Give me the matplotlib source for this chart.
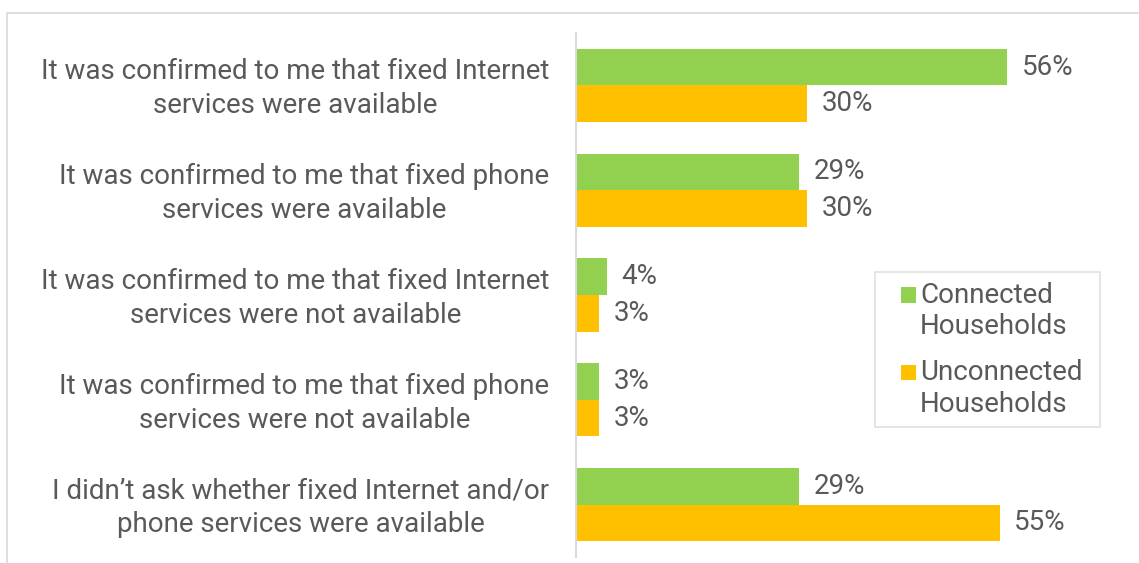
import matplotlib.pyplot as plt
import matplotlib.patches as mpatches
from matplotlib.legend_handler import HandlerPatch
import numpy as np

plt.rcParams['font.family'] = ['Roboto', 'DejaVu Sans']

categories = [
    "It was confirmed to me that fixed Internet\nservices were available",
    "It was confirmed to me that fixed phone\nservices were available",
    "It was confirmed to me that fixed Internet\nservices were not available",
    "It was confirmed to me that fixed phone\nservices were not available",
    "I didn\u2019t ask whether fixed Internet and/or\nphone services were available",
]
connected = [56, 29, 4, 3, 29]
unconnected = [30, 30, 3, 3, 55]
series_names = ["Connected\nHouseholds", "Unconnected\nHouseholds"]

GREEN = "#92D050"
GOLD = "#FFC000"
TEXT = "#595959"
FS = 20

W, H = 1139, 563
fig = plt.figure(figsize=(W / 100, H / 100), dpi=100)

# outer frame (cropped at right/bottom)
frame = mpatches.Rectangle((7 / W, -0.1), 1.2, 1 - 13 / H + 0.1,
                           transform=fig.transFigure, fill=False,
                           edgecolor="#D9D9D9", lw=1.2)
fig.patches.append(frame)

ax = fig.add_axes([576 / W, 6 / H, 539 / W, 524 / H])
y = np.arange(len(categories))
h = 0.35
b1 = ax.barh(y - h / 2, connected, height=h, color=GREEN)
b2 = ax.barh(y + h / 2, unconnected, height=h, color=GOLD)

for bars, vals in ((b1, connected), (b2, unconnected)):
    for bar, v in zip(bars, vals):
        ax.text(bar.get_width() + 1.9, bar.get_y() + bar.get_height() / 2,
                f"{v}%", va="center", ha="left", fontsize=FS, color=TEXT)

ax.set_xlim(0, 70)
ax.set_ylim(len(categories) - 0.5, -0.5)
ax.set_xticks([])
ax.set_yticks(y - 0.03)
ax.set_yticklabels(categories, fontsize=FS, color=TEXT, ha="right",
                   multialignment="center", linespacing=1.33)
ax.tick_params(axis="y", length=0, pad=19)
for s in ("top", "right", "bottom"):
    ax.spines[s].set_visible(False)
ax.spines["left"].set_color("#D9D9D9")
ax.spines["left"].set_linewidth(1.5)


def top_square(legend, orig_handle, xdescent, ydescent, width, height, fontsize):
    # square at the right end of the handle, beside the first label line
    s = 0.55 * fontsize
    return mpatches.Rectangle((-xdescent + width - s, -ydescent + 0.62 * fontsize),
                              s, s)


proxies = [mpatches.Rectangle((0, 0), 1, 1, facecolor=GREEN),
           mpatches.Rectangle((0, 0), 1, 1, facecolor=GOLD)]
leg = ax.legend(proxies, series_names, loc="upper left",
                bbox_to_anchor=(875 / W, 1 - 428 / H, 225 / W, 156 / H),
                bbox_transform=fig.transFigure, mode="expand",
                fontsize=FS, frameon=True,
                fancybox=False, edgecolor="#D9D9D9", handlelength=1.125,
                handleheight=0.55, handletextpad=0.15, labelspacing=0.7,
                borderpad=0.35, borderaxespad=0,
                handler_map={mpatches.Rectangle: HandlerPatch(patch_func=top_square)})
for t in leg.get_texts():
    t.set_color(TEXT)
leg.get_frame().set_linewidth(1.2)

fig.savefig("out.png", dpi=100)
